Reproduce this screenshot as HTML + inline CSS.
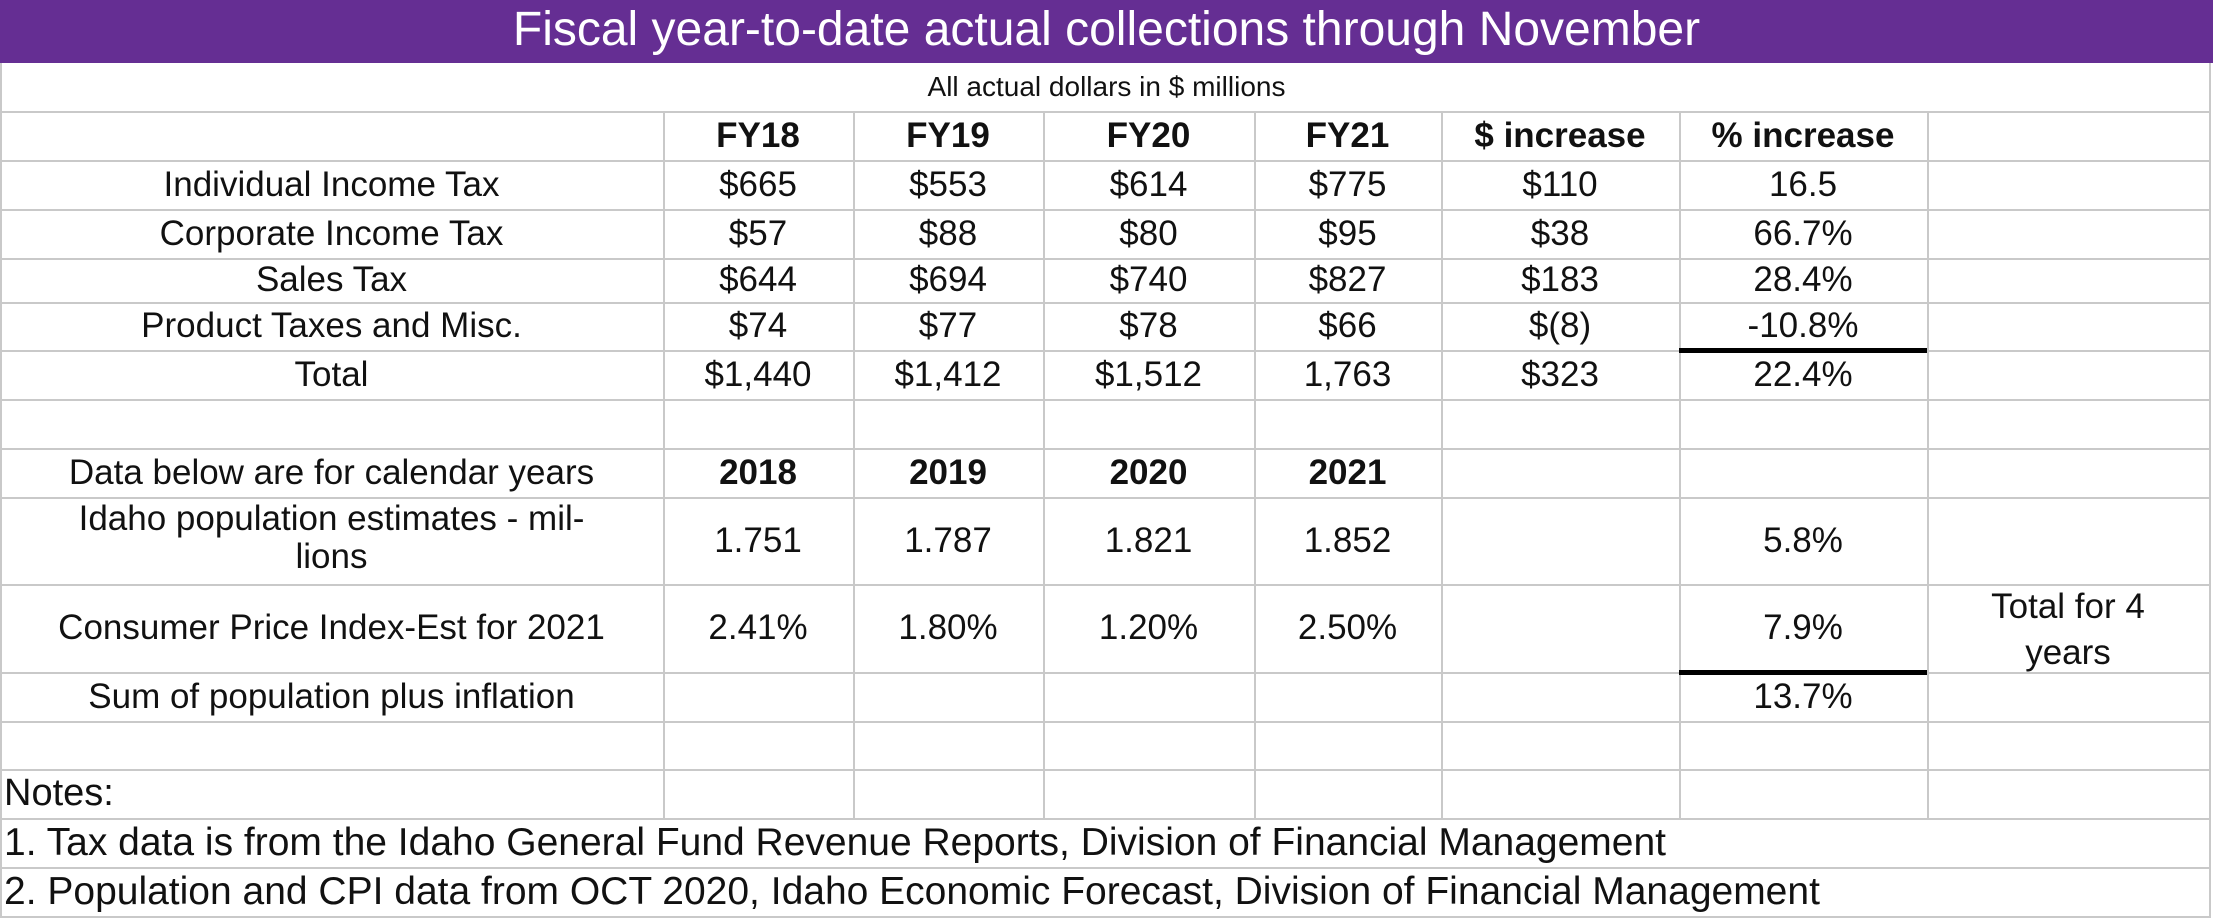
<!DOCTYPE html>
<html><head><meta charset="utf-8"><style>
body{margin:0;width:2213px;height:924px;background:#fff;overflow:hidden;position:relative;font-family:"Liberation Sans",sans-serif;color:#111}
.h{position:absolute;height:2px;background:#c9c9c9}
.v{position:absolute;width:2px;background:#c9c9c9}
.t{position:absolute;font-size:35px;text-align:center;line-height:49px;white-space:nowrap}
.b{font-weight:bold}
.k{position:absolute;height:5px;background:#000}
</style></head><body>
<div style="position:absolute;left:0;top:0;width:2213px;height:63px;background:#652e93"></div>
<div style="position:absolute;left:0;top:0;width:2213px;height:63px;line-height:60px;text-align:center;color:#fff;font-size:48px">Fiscal year-to-date actual collections through November</div>
<div style="position:absolute;left:0;top:63px;width:2213px;height:48px;line-height:48px;text-align:center;font-size:28px">All actual dollars in $ millions</div>
<div class="v" style="left:0;top:63px;height:855px"></div>
<div class="v" style="left:2209px;top:63px;height:855px"></div>
<div id="g"></div>
<script>
var ys=[111,160,209,258,302,350,399,448,497,584,672,721,769,818,867,916];
var xs=[663,853,1043,1254,1441,1679,1927];
var s='';
ys.forEach(function(y){s+='<div class="h" style="left:0;top:'+y+'px;width:2211px"></div>';});
xs.forEach(function(x){s+='<div class="v" style="left:'+x+'px;top:111px;height:707px"></div>';});
var cols=[[0,663],[663,853],[853,1043],[1043,1254],[1254,1441],[1441,1679],[1679,1927],[1927,2209]];
function cell(r0,r1,c,txt,cls){var x=cols[c];s+='<div class="t '+(cls||'')+'" style="left:'+x[0]+'px;top:'+r0+'px;width:'+(x[1]-x[0])+'px;height:'+(r1-r0)+'px;line-height:'+(r1-r0)+'px">'+txt+'</div>';}
var rows=[
[111,160,['','FY18','FY19','FY20','FY21','$ increase','% increase'],'b'],
[160,209,['Individual Income Tax','$665','$553','$614','$775','$110','16.5']],
[209,258,['Corporate Income Tax','$57','$88','$80','$95','$38','66.7%']],
[258,302,['Sales Tax','$644','$694','$740','$827','$183','28.4%']],
[302,350,['Product Taxes and Misc.','$74','$77','$78','$66','$(8)','-10.8%']],
[350,399,['Total','$1,440','$1,412','$1,512','1,763','$323','22.4%']],
[584,672,['Consumer Price Index-Est for 2021','2.41%','1.80%','1.20%','2.50%','','7.9%']],
[672,721,['Sum of population plus inflation','','','','','','13.7%']]];
rows.forEach(function(r){r[2].forEach(function(t,i){cell(r[0],r[1],i,t,(r[3]&&i>0)?'b':'');});});
cell(448,497,0,'Data below are for calendar years');
['2018','2019','2020','2021'].forEach(function(t,i){cell(448,497,i+1,t,'b');});
['1.751','1.787','1.821','1.852','','5.8%'].forEach(function(t,i){cell(497,584,i+1,t);});
s+='<div class="t" style="left:0;top:500px;width:663px;line-height:38px">Idaho population estimates - mil-<br>lions</div>';
s+='<div class="t" style="left:1927px;top:584px;width:282px;line-height:46px">Total for 4<br>years</div>';
s+='<div class="t" style="left:4px;top:769px;text-align:left;line-height:49px;font-size:38px">Notes:</div>';
s+='<div class="t" style="left:4px;top:818px;text-align:left;font-size:39px">1. Tax data is from the Idaho General Fund Revenue Reports, Division of Financial Management</div>';
s+='<div class="t" style="left:4px;top:867px;text-align:left;font-size:39px">2. Population and CPI data from OCT 2020, Idaho Economic Forecast, Division of Financial Management</div>';
s+='<div class="k" style="left:1679px;top:348px;width:248px"></div>';
s+='<div class="k" style="left:1679px;top:670px;width:248px"></div>';
document.getElementById('g').innerHTML=s;
</script>
</body></html>
